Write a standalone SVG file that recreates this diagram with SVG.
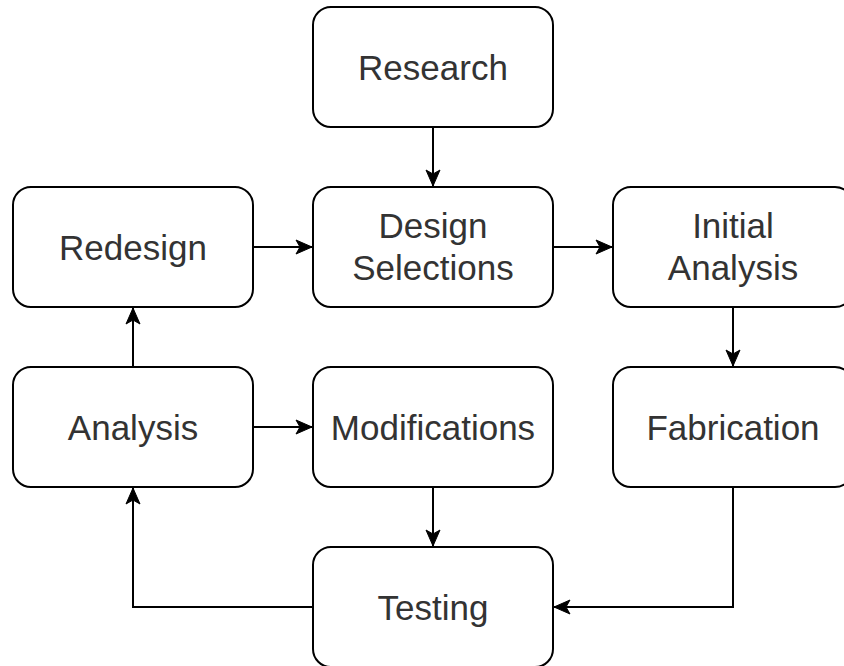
<svg xmlns="http://www.w3.org/2000/svg" width="844" height="666" viewBox="0 0 844 666">
<defs>
<style>
.box{fill:#fff;stroke:#000;stroke-width:2}
.t{font-family:"Liberation Sans",Arial,Helvetica,sans-serif;font-size:35px;fill:#333;text-anchor:middle}
.c{fill:none;stroke:#000;stroke-width:2}
</style>
<marker id="ah" markerUnits="userSpaceOnUse" markerWidth="18" markerHeight="16" viewBox="0 0 18 16" refX="17" refY="8" orient="auto">
<path d="M1,1 L17,8 L1,15 L5,8 Z" fill="#000" stroke="#000" stroke-width="1" stroke-linejoin="miter"/>
</marker>
</defs>
<rect width="844" height="666" fill="#fff"/>
<g id="connectors">
<path class="c" d="M433,127 V186" marker-end="url(#ah)"/>
<path class="c" d="M253,247 H312" marker-end="url(#ah)"/>
<path class="c" d="M553,247 H612" marker-end="url(#ah)"/>
<path class="c" d="M733,307 V366" marker-end="url(#ah)"/>
<path class="c" d="M133,367 V308" marker-end="url(#ah)"/>
<path class="c" d="M253,427 H312" marker-end="url(#ah)"/>
<path class="c" d="M433,487 V546" marker-end="url(#ah)"/>
<path class="c" d="M733,487 V607 H554" marker-end="url(#ah)"/>
<path class="c" d="M313,607 H133 V488" marker-end="url(#ah)"/>
</g>
<g id="research"><rect class="box" x="313" y="7" width="240" height="120" rx="18"/><text class="t" x="433" y="80">Research</text></g>
<g id="redesign"><rect class="box" x="13" y="187" width="240" height="120" rx="18"/><text class="t" x="133" y="260">Redesign</text></g>
<g id="design-selections"><rect class="box" x="313" y="187" width="240" height="120" rx="18"/><text class="t" x="433" y="238">Design</text><text class="t" x="433" y="280">Selections</text></g>
<g id="initial-analysis"><rect class="box" x="613" y="187" width="240" height="120" rx="18"/><text class="t" x="733" y="238">Initial</text><text class="t" x="733" y="280">Analysis</text></g>
<g id="analysis"><rect class="box" x="13" y="367" width="240" height="120" rx="18"/><text class="t" x="133" y="440">Analysis</text></g>
<g id="modifications"><rect class="box" x="313" y="367" width="240" height="120" rx="18"/><text class="t" x="433" y="440">Modifications</text></g>
<g id="fabrication"><rect class="box" x="613" y="367" width="240" height="120" rx="18"/><text class="t" x="733" y="440">Fabrication</text></g>
<g id="testing"><rect class="box" x="313" y="547" width="240" height="120" rx="18"/><text class="t" x="433" y="620">Testing</text></g>
</svg>
